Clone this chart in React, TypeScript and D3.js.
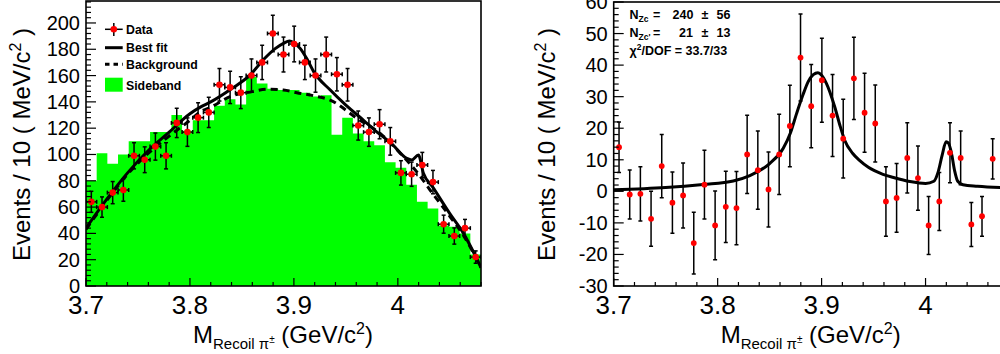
import React from 'react';
import * as d3 from 'd3';

// ---------- data ----------
const massRange: [number, number] = [3.7, 4.08];
const nBins = 37;

const dataCounts = [64, 60, 71, 73, 99, 96, 106, 99, 124, 117, 128, 132, 153, 151, 147, 160, 170, 192, 176, 184, 170, 160, 176, 161, 153, 122, 117, 123, 110, 86, 85, 92, 79, 47, 38, 44, 22];
const sidebandCounts = [80, 101, 93, 100, 110, 110, 117, 117, 130, 118, 126, 126, 137, 142, 138, 159, 154, 150, 149, 149, 147, 144, 145, 115, 128, 116, 110, 107, 94, 90, 77, 64, 59, 46, 45, 40, 24];

const fitMass = [3.7, 3.72, 3.74, 3.76, 3.78, 3.8, 3.81, 3.82, 3.84, 3.858, 3.8706, 3.882, 3.89, 3.8957, 3.9, 3.906, 3.913, 3.919, 3.935, 3.95, 3.967, 3.98, 3.993, 4.0086, 4.0134, 4.0198, 4.0246, 4.0333, 4.05, 4.0631, 4.08];
const fitValues = [44, 66, 86, 103, 117, 131, 136, 140, 150, 160.5, 172, 180.5, 184.5, 186.3, 185, 180.7, 172, 163, 149, 137.5, 126, 117, 109, 97, 95.8, 99.6, 85.7, 75.5, 55, 40, 14];

const bkgMass = [3.7, 3.72, 3.74, 3.76, 3.78, 3.8, 3.81, 3.82, 3.8386, 3.86, 3.8739, 3.89, 3.9028, 3.92, 3.9348, 3.9606, 3.983, 4.0054, 4.02, 4.031, 4.05, 4.0631, 4.08];
const bkgValues = [43, 65, 85, 101, 114, 126, 132.5, 136, 144, 147.8, 149.6, 149, 147, 144.5, 141.4, 127.5, 116, 98.3, 85, 73, 53, 38.5, 14];

const subValues = [14, -1, -0.8, -8.7, 8, -3.6, -1.3, -16.4, 2.1, -10.8, -4.9, -5.3, 11.7, 6.7, 0.6, 11.7, 20.7, 42.4, 27, 35.2, 24, 16.7, 35.8, 24.9, 21.5, -3.2, -2.1, 10.6, 4.2, -10.8, -3.2, 12.2, 10.6, -10.5, -7.9, 10.3, 2];
const subErrors = [8, 7.8, 8.6, 8.7, 10, 9.7, 10.3, 9.8, 10.9, 10.9, 11.3, 11.6, 12.4, 12.4, 11.9, 12.7, 12.9, 13.8, 13.2, 13.3, 13, 12.5, 13, 12.5, 12.2, 11, 10.9, 11.1, 10.2, 9.2, 9.2, 9.5, 8.5, 7, 6.3, 6.4, 6];

const subFitMass = [3.7, 3.75, 3.786, 3.815, 3.831, 3.85, 3.863, 3.87, 3.876, 3.882, 3.887, 3.892, 3.8965, 3.9, 3.9046, 3.9126, 3.918, 3.9222, 3.93, 3.9365, 3.945, 3.959, 3.97, 3.985, 4.0, 4.008, 4.012, 4.016, 4.0198, 4.022, 4.025, 4.028, 4.031, 4.036, 4.05, 4.08];
const subFitValues = [0.5, 1.2, 2.2, 3.3, 5.0, 8.8, 13.6, 18.5, 24.7, 30.5, 34.7, 37, 37.6, 36.8, 34.2, 26.8, 20.5, 16.2, 12, 9.8, 7.6, 5.4, 4.3, 3.1, 2.5, 3.2, 6, 11.5, 15.7, 15.3, 12, 6.5, 3.2, 2.1, 1.6, 1.1];

const xMajorTicks = [3.7, 3.8, 3.9, 4.0];
const xTickLabels = ['3.7', '3.8', '3.9', '4'];
const leftYMajor = [0, 20, 40, 60, 80, 100, 120, 140, 160, 180, 200];
const rightYMajor = [-30, -20, -10, 0, 10, 20, 30, 40, 50, 60];
const legendLabels = ['Data', 'Best fit', 'Background', 'Sideband'];

const FONT = "'Liberation Sans', Arial, Helvetica, sans-serif";
const GREEN = '#00ff00';
const RED = '#ff0000';

const edges = d3.range(nBins + 1).map((i) => massRange[0] + (i * (massRange[1] - massRange[0])) / nBins);
const centers = d3.range(nBins).map((i) => (edges[i] + edges[i + 1]) / 2);

type Scale = d3.ScaleLinear<number, number>;

function Axes({ x, y, yMajor, yMinorStep, yDomain }: { x: Scale; y: Scale; yMajor: number[]; yMinorStep: number; yDomain: [number, number] }) {
  const [x0, x1] = x.range();
  const [yb, yt] = y.range();
  const xMinor = d3.range(0, 20).map((i) => massRange[0] + i * 0.02);
  const yMinor = d3.range(Math.ceil(yDomain[0] / yMinorStep), Math.floor(yDomain[1] / yMinorStep) + 1).map((k) => k * yMinorStep);
  return (
    <g>
      <rect x={x0} y={yt} width={x1 - x0} height={yb - yt} fill="none" stroke="#000" strokeWidth={1.6} />
      {xMinor.map((v, i) => (
        <line key={'xm' + i} x1={x(v)} x2={x(v)} y1={yb} y2={yb - (i % 5 === 0 ? 8 : 4)} stroke="#000" strokeWidth={1.2} />
      ))}
      {xMajorTicks.map((v, i) => (
        <text key={'xl' + i} x={x(v)} y={314} textAnchor="middle" fontSize={26} fontFamily={FONT}>{xTickLabels[i]}</text>
      ))}
      {yMinor.map((v, i) => (
        <line key={'ym' + i} x1={x0} x2={x0 + (yMajor.includes(v) ? 10 : 5)} y1={y(v)} y2={y(v)} stroke="#000" strokeWidth={1.2} />
      ))}
      {yMajor.map((v, i) => (
        <text key={'yl' + i} x={x0 - 6} y={y(v) + 7} textAnchor="end" fontSize={20} fontFamily={FONT}>{String(v)}</text>
      ))}
    </g>
  );
}

function Titles({ left, yBase }: { left: number; yBase: number }) {
  return (
    <g fontFamily={FONT}>
      <text x={left + 107} y={343} fontSize={24}>
        M<tspan dy={6} fontSize={15}>Recoil π</tspan>
        <tspan dy={-6} fontSize={10}>±</tspan>
        <tspan dy={0} fontSize={24}> (GeV/c</tspan>
        <tspan dy={-9} fontSize={16}>2</tspan>
        <tspan dy={9} fontSize={24}>)</tspan>
      </text>
      <text transform={`translate(${yBase},28) rotate(-90)`} textAnchor="end" fontSize={24}>
        Events / 10 ( MeV/c<tspan dy={-9} fontSize={16}>2</tspan>
        <tspan dy={9} fontSize={24}> )</tspan>
      </text>
    </g>
  );
}

function LeftPanel() {
  const x = d3.scaleLinear().domain(massRange).range([86, 481]);
  const y = d3.scaleLinear().domain([0, 216.7]).range([286, 1]);
  const stepVals = [...sidebandCounts, sidebandCounts[sidebandCounts.length - 1]];
  const area = d3
    .area<number>()
    .x((_, i) => x(edges[i]))
    .y0(y(0))
    .y1((d) => y(d))
    .curve(d3.curveStepAfter);
  const line = d3
    .line<number>()
    .x((_, i) => x(fitMass[i]))
    .y((d) => y(d))
    .curve(d3.curveMonotoneX);
  const bline = d3
    .line<number>()
    .x((_, i) => x(bkgMass[i]))
    .y((d) => y(d))
    .curve(d3.curveMonotoneX);
  const halfW = (x(edges[1]) - x(edges[0])) / 2;
  return (
    <g>
      <defs>
        <clipPath id="clipL">
          <rect x={86} y={1} width={395} height={285} />
        </clipPath>
      </defs>
      <g clipPath="url(#clipL)">
        <path d={area(stepVals) || ''} fill={GREEN} stroke="none" />
        <path d={bline(bkgValues) || ''} fill="none" stroke="#000" strokeWidth={3} strokeDasharray="7,5" />
        <path d={line(fitValues) || ''} fill="none" stroke="#000" strokeWidth={3} />
        {dataCounts.map((v, i) => {
          const cx = x(centers[i]);
          const e = Math.sqrt(v);
          const yt = y(v + e);
          const yb = y(v - e);
          return (
            <g key={i} stroke="#000" strokeWidth={1.5}>
              <line x1={cx} x2={cx} y1={yt} y2={yb} />
              <line x1={cx - 2} x2={cx + 2} y1={yt} y2={yt} />
              <line x1={cx - 2} x2={cx + 2} y1={yb} y2={yb} />
              <line x1={cx - halfW} x2={cx + halfW} y1={y(v)} y2={y(v)} />
              <line x1={cx - halfW} x2={cx - halfW} y1={y(v) - 2} y2={y(v) + 2} />
              <line x1={cx + halfW} x2={cx + halfW} y1={y(v) - 2} y2={y(v) + 2} />
              <circle cx={cx} cy={y(v)} r={3.3} fill={RED} stroke="none" />
            </g>
          );
        })}
      </g>
      <Axes x={x} y={y} yMajor={leftYMajor} yMinorStep={4} yDomain={[0, 216.7]} />
      {/* legend */}
      <g fontFamily={FONT} fontWeight="bold" fontSize={12.3}>
        <g stroke="#000" strokeWidth={1.5}>
          <line x1={105} x2={122.7} y1={29.3} y2={29.3} />
          <line x1={113.8} x2={113.8} y1={23} y2={36} />
        </g>
        <circle cx={113.8} cy={29.3} r={3.3} fill={RED} />
        <text x={126} y={33.5}>{legendLabels[0]}</text>
        <line x1={105} x2={122.7} y1={47.7} y2={47.7} stroke="#000" strokeWidth={3} />
        <text x={126} y={51.8}>{legendLabels[1]}</text>
        <line x1={105} x2={122.7} y1={64.3} y2={64.3} stroke="#000" strokeWidth={3} strokeDasharray="4.5,4" />
        <text x={126} y={68.5}>{legendLabels[2]}</text>
        <rect x={105} y={77.7} width={17.7} height={14} fill={GREEN} />
        <text x={126} y={89.5}>{legendLabels[3]}</text>
      </g>
      <Titles left={86} yBase={30} />
    </g>
  );
}

function RightPanel() {
  const x = d3.scaleLinear().domain(massRange).range([613.7, 1008.7]);
  const y = d3.scaleLinear().domain([-30, 60]).range([286, 2]);
  const line = d3
    .line<number>()
    .x((_, i) => x(subFitMass[i]))
    .y((d) => y(d))
    .curve(d3.curveMonotoneX);
  return (
    <g>
      <defs>
        <clipPath id="clipR">
          <rect x={613.7} y={2} width={395} height={284} />
        </clipPath>
      </defs>
      <g clipPath="url(#clipR)">
        <path d={line(subFitValues) || ''} fill="none" stroke="#000" strokeWidth={3} />
        {subValues.map((v, i) => {
          const cx = x(centers[i]);
          const e = subErrors[i];
          const yt = y(v + e);
          const yb = y(v - e);
          return (
            <g key={i} stroke="#000" strokeWidth={1.5}>
              <line x1={cx} x2={cx} y1={yt} y2={yb} />
              <line x1={cx - 2} x2={cx + 2} y1={yt} y2={yt} />
              <line x1={cx - 2} x2={cx + 2} y1={yb} y2={yb} />
              <circle cx={cx} cy={y(v)} r={2.9} fill={RED} stroke="none" />
            </g>
          );
        })}
      </g>
      <Axes x={x} y={y} yMajor={rightYMajor} yMinorStep={2} yDomain={[-30, 60]} />
      <g fontFamily={FONT} fontWeight="bold" fontSize={12.5}>
        <text x={629.5} y={19}>N<tspan dy={3} fontSize={8.5}>Zc</tspan></text>
        <text x={653} y={19}>=</text>
        <text x={672.5} y={19}>240</text>
        <text x={705} y={19} textAnchor="middle">±</text>
        <text x={716.5} y={19}>56</text>
        <text x={629.5} y={37.3}>N<tspan dy={3} fontSize={8.5}>Zc'</tspan></text>
        <text x={653} y={37.3}>=</text>
        <text x={679} y={37.3}>21</text>
        <text x={705} y={37.3} textAnchor="middle">±</text>
        <text x={716.5} y={37.3}>13</text>
        <text x={629.5} y={55}>
          χ<tspan dy={-5} fontSize={8.5}>2</tspan>
          <tspan dy={5} fontSize={12.5}>/DOF = 33.7/33</tspan>
        </text>
      </g>
      <Titles left={613.7} yBase={555} />
    </g>
  );
}

export default function App() {
  return (
    <svg
      width={1000}
      height={354}
      style={{ position: 'absolute', left: 0, top: 0, display: 'block', background: '#fff' }}
    >
      <rect x={0} y={0} width={1000} height={354} fill="#fff" />
      <LeftPanel />
      <RightPanel />
    </svg>
  );
}
